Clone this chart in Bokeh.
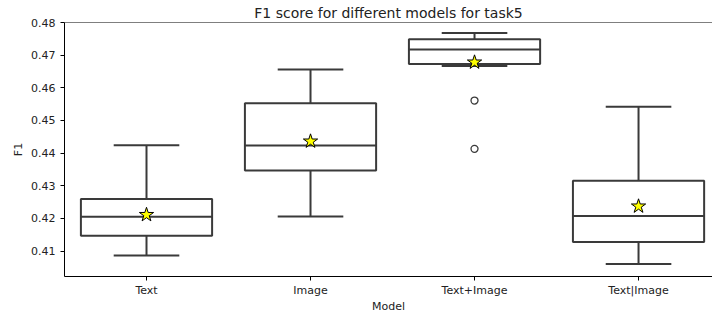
from bokeh.plotting import figure
from bokeh.models import Range1d, FixedTicker, Span
from bokeh.embed import file_html
from bokeh.resources import INLINE

models = ["Text", "Image", "Text+Image", "Text|Image"]
whisker_low = [0.4086, 0.4206, 0.4667, 0.4060]
q1 = [0.4147, 0.4347, 0.4673, 0.4128]
median = [0.4205, 0.4423, 0.4717, 0.4207]
q3 = [0.4259, 0.4553, 0.4749, 0.4315]
whisker_high = [0.4424, 0.4656, 0.4768, 0.4542]
means = [0.4211, 0.4436, 0.4678, 0.4237]
outlier_model = ["Text+Image", "Text+Image"]
outlier_values = [0.4561, 0.4413]
y_ticks = [0.41, 0.42, 0.43, 0.44, 0.45, 0.46, 0.47, 0.48]

FONT = "DejaVu Sans"
LINE = "#3a3a3a"
TXT = "#222222"

xs = list(range(len(models)))

p = figure(width=712, height=320, output_backend="svg", toolbar_location=None,
           x_range=Range1d(-0.5, 3.451), y_range=Range1d(0.4022, 0.48),
           min_border_left=64, min_border_right=0, min_border_top=22,
           min_border_bottom=44,
           title="F1 score for different models for task5")
p.title.align = "center"
p.title.offset = 4
p.title.standoff = 3
p.title.text_font = FONT
p.title.text_font_size = "14px"
p.title.text_font_style = "normal"
p.title.text_color = TXT
p.outline_line_color = None
p.xgrid.visible = False
p.ygrid.visible = False
p.background_fill_color = "white"
p.border_fill_color = "white"

# boxes
p.quad(left=[x - 0.4 for x in xs], right=[x + 0.4 for x in xs], bottom=q1, top=q3,
       fill_color="white", line_color=LINE, line_width=2)
# medians
p.segment(x0=[x - 0.4 for x in xs], x1=[x + 0.4 for x in xs], y0=median, y1=median,
          line_color=LINE, line_width=2)
# whiskers
p.segment(x0=xs, x1=xs, y0=q3, y1=whisker_high, line_color=LINE, line_width=2)
p.segment(x0=xs, x1=xs, y0=q1, y1=whisker_low, line_color=LINE, line_width=2)
# caps
p.segment(x0=[x - 0.2 for x in xs], x1=[x + 0.2 for x in xs], y0=whisker_high, y1=whisker_high,
          line_color=LINE, line_width=2)
p.segment(x0=[x - 0.2 for x in xs], x1=[x + 0.2 for x in xs], y0=whisker_low, y1=whisker_low,
          line_color=LINE, line_width=2)
# outliers
p.scatter(x=[models.index(m) for m in outlier_model], y=outlier_values, marker="circle",
          size=7, fill_color="white", line_color=LINE, line_width=1.3)
# means
p.scatter(x=xs, y=means, marker="star", size=15, fill_color="yellow",
          line_color="black", line_width=1)

# top spine
p.add_layout(Span(location=0.48, dimension="width", line_color="black", line_width=1))

# axes
for ax in (p.xaxis[0], p.yaxis[0]):
    ax.axis_line_color = "black"
    ax.axis_line_width = 1
    ax.major_tick_line_color = "black"
    ax.major_tick_in = 0
    ax.major_tick_out = 4
    ax.minor_tick_line_color = None
    ax.major_label_text_font = FONT
    ax.major_label_text_font_size = "11px"
    ax.major_label_text_color = TXT
    ax.axis_label_text_font = FONT
    ax.axis_label_text_font_size = "11px"
    ax.axis_label_text_font_style = "normal"
    ax.axis_label_text_color = TXT

p.xaxis.ticker = FixedTicker(ticks=xs)
p.xaxis.major_label_overrides = {i: m for i, m in enumerate(models)}
p.xaxis.axis_label = "Model"
p.xaxis.major_label_standoff = 3
p.xaxis.axis_label_standoff = 0

p.yaxis.ticker = FixedTicker(ticks=y_ticks)
p.yaxis.axis_label = "F1"
p.yaxis.major_label_standoff = 5
p.yaxis.axis_label_standoff = 3

open("out.html", "w").write(file_html(p, INLINE))
